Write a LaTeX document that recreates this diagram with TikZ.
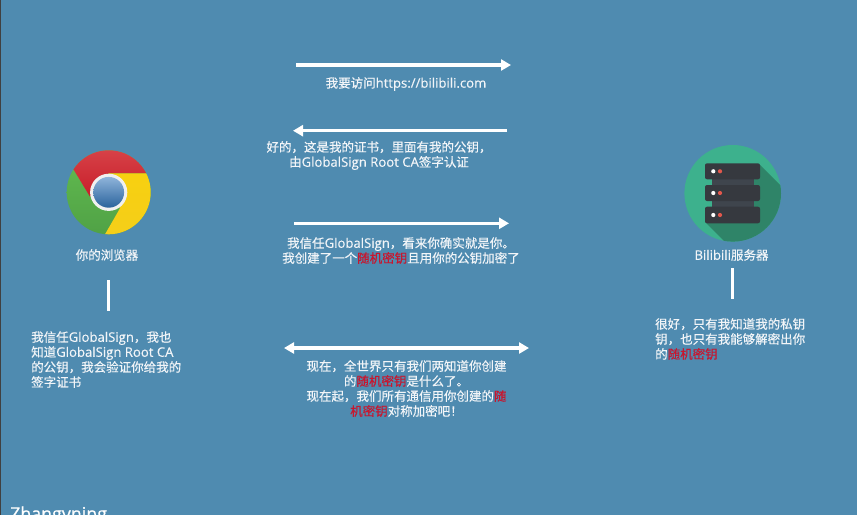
\documentclass[tikz,border=0pt]{standalone}
\usepackage{fontspec}
\setmainfont{Open Sans}[Scale=1.05,FakeBold=0.3]
\newfontfamily\cj{Noto Sans CJK SC}[FakeBold=0.4]
\newfontfamily\sigfont{Open Sans}[FakeBold=0.6]
\usetikzlibrary{arrows.meta}
\definecolor{bgblue}{HTML}{4F8BB0}
\definecolor{redkey}{HTML}{C8162E}
\definecolor{txt}{HTML}{F2F5F8}
\definecolor{rackgray}{HTML}{36393F}
\definecolor{greenA}{HTML}{62BC50}
\definecolor{greenB}{HTML}{4FA045}
\definecolor{redA}{HTML}{E0585A}
\definecolor{redB}{HTML}{C81E2A}
\definecolor{yelA}{HTML}{F7D010}
\definecolor{yelB}{HTML}{F4CE1C}
\definecolor{blueA}{HTML}{8FB4DA}
\definecolor{blueB}{HTML}{2A639C}
\definecolor{teal}{HTML}{3DB18D}
\definecolor{tealD}{HTML}{2F8468}
\definecolor{rackL}{HTML}{3F454D}
\definecolor{dotred}{HTML}{E2574C}
\newcommand{\C}[1]{{\cj #1}}
\newcommand{\K}[1]{{\cj\textcolor{redkey}{#1}}}
\tikzset{
  x=1pt,y=-1pt,
  lbl/.style={text=txt,inner sep=0pt,font=\fontsize{12.5}{15}\selectfont},
  ctr/.style={lbl,align=center},
  lft/.style={lbl,align=left,anchor=west},
  msg/.style={draw=white,line width=3.4pt,{Triangle[length=10pt,width=11pt]}-{Triangle[length=10pt,width=11pt]}},
  msgr/.style={draw=white,line width=3.4pt,-{Triangle[length=10pt,width=11pt]}},
  bar/.style={draw=white,line width=3.4pt},
  rack/.style={fill=rackgray,rounded corners=2pt},
}
\begin{document}
\begin{tikzpicture}
\useasboundingbox (0,0) rectangle (857,515);
\clip (0,0) rectangle (857,515);
\fill[bgblue] (0,0) rectangle (857,515);
\fill[black!75] (0,0) rectangle (1.2,515);

% Chrome icon
\begin{scope}
\clip (108.7,192.3) circle (42);
\shade[top color=greenA,bottom color=greenB] (60,150) rectangle (160,240);
\shade[top color=redA,bottom color=redB] (90,196.7) -- (60,147) -- (100,120) -- (170,140) -- (170,173.3) -- (108.7,173.3) -- cycle;
\shade[top color=yelA,bottom color=yelB] (108.7,173.3) -- (170,173.3) -- (170,250) -- (96,249.9) -- (120,208.3) -- cycle;
\end{scope}
\fill[white!88!gray] (108.7,192.3) circle (18.6);
\shade[top color=blueA,bottom color=blueB] (108.7,192.3) circle (15.4);

% Server icon
\fill[teal] (732.7,193.3) circle (48.3);
\begin{scope}
\clip (732.7,193.3) circle (48.3);
\fill[tealD] (760,165) -- (800,205) -- (800,300) -- (780,297) -- (705,222) -- cycle;
\end{scope}
\fill[rackL] (711.7,178) rectangle (754,208);
\fill[rack] (705,163.3) rectangle (760,179.3);
\fill[rack] (705,185) rectangle (760,201);
\fill[rack] (705,206.7) rectangle (760,223.3);
\foreach \yy in {171.3,193,215}{
  \fill[white] (713.3,\yy) circle (2.1);
  \fill[dotred] (720,\yy) circle (2.1);
}

% labels
\node[ctr] (browser) at (107,255) {\C{你的浏览器}};
\node[ctr] (server) at (731.5,255) {Bilibili\C{服务器}};
\node[ctr] (m1) at (406,84) {\C{我要访问}https://bilibili.com};
\node[ctr] (m2) at (379,155.5) {\C{好的，这是我的证书，里面有我的公钥，}\\\C{由}GlobalSign Root CA\C{签字认证}};
\node[ctr] (m3) at (401,250.5) {\C{我信任}GlobalSign\C{，看来你确实就是你。}\\\C{我创建了一个}\K{随机密钥}\C{且用你的公钥加密了}};
\node[ctr] (m4) at (406.5,388.5) {\C{现在，全世界只有我们两知道你创建}\\\C{的}\K{随机密钥}\C{是什么了。}\\\C{现在起，我们所有通信用你创建的}\K{随}\\\K{机密钥}\C{对称加密吧！}};
\node[lft] (n1) at (31,359.5) {\C{我信任}GlobalSign\C{，我也}\\\C{知道}GlobalSign Root CA\\\C{的公钥，我会验证你给我的}\\\C{签字证书}};
\node[lft] (n2) at (655,339) {\C{很好，只有我知道我的私钥}\\\C{钥，也只有我能够解密出你}\\\C{的}\K{随机密钥}};
\node[anchor=base west,inner sep=0pt,text=white,font=\sigfont\fontsize{17.8}{18}\selectfont] (sig) at (10,520) {Zhangyning};

% connectors
\coordinate (a1s) at (296,65); \coordinate (a1e) at (511,65);
\coordinate (a2s) at (507,130.7); \coordinate (a2e) at (293,130.7);
\coordinate (a3s) at (294,223.3); \coordinate (a3e) at (509,223.3);
\coordinate (a4s) at (284,348); \coordinate (a4e) at (529,348);
\coordinate (b1s) at (108.7,280); \coordinate (b1e) at (108.7,311);
\coordinate (b2s) at (732.5,268); \coordinate (b2e) at (732.5,299);
\draw[msgr] (a1s) -- (a1e);
\draw[msgr] (a2s) -- (a2e);
\draw[msgr] (a3s) -- (a3e);
\draw[msg] (a4s) -- (a4e);
\draw[bar] (b1s) -- (b1e);
\draw[bar] (b2s) -- (b2e);
\end{tikzpicture}
\end{document}
